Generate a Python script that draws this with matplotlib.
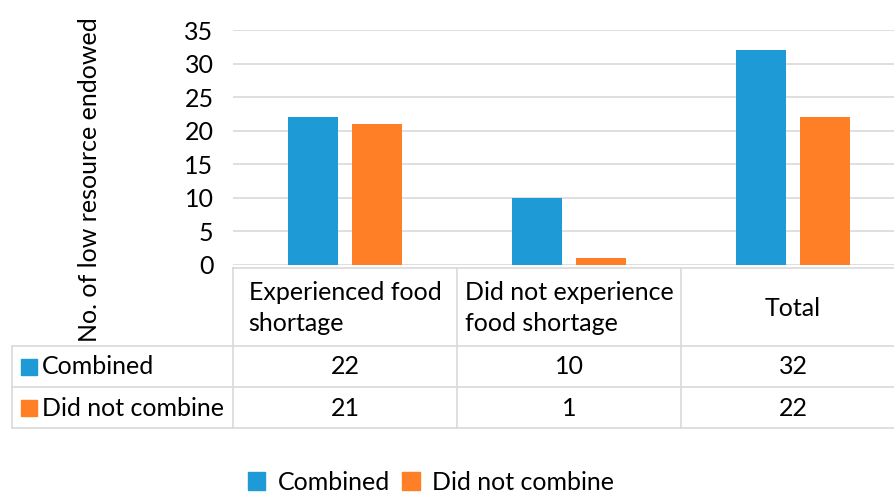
import matplotlib
matplotlib.use('Agg')
from matplotlib import pyplot as plt
from matplotlib.transforms import blended_transform_factory
from matplotlib.patches import Rectangle

# data
categories = ['Experienced food\nshortage', 'Did not experience\nfood shortage', 'Total']
series = ['Combined', 'Did not combine']
combined = [22, 10, 32]
not_combined = [21, 1, 22]
yticks = [0, 5, 10, 15, 20, 25, 30, 35]

blue = '#1E9BD7'
orange = '#FF7F27'
grid_c = '#d9d9d9'
plt.rcParams['font.family'] = ['Lato', 'DejaVu Sans']
fs = 18

W, H = 895, 492
fig = plt.figure(figsize=(W / 100, H / 100), dpi=100)

def px(x, y):
    return x / W, 1 - y / H

# bar axes: x from 233 to 905 px, y from 265 (0) to 30 (35)
x0, y0 = px(233, 265)
ax = fig.add_axes([x0, y0, 672 / W, 235 / H])
n = len(categories)
xs = list(range(n))
bw = 0.223
off = 0.143
ax.bar([x - off for x in xs], combined, bw, color=blue, zorder=3)
ax.bar([x + off for x in xs], not_combined, bw, color=orange, zorder=3)
ax.set_xlim(-0.5, n - 0.5)
ax.set_ylim(0, 35)
ax.set_yticks(yticks)
ax.set_yticklabels([str(t) for t in yticks], fontsize=fs)
ax.set_xticks([])
ax.tick_params(axis='y', length=0, pad=14)
ax.yaxis.grid(True, color=grid_c, lw=1.2)
for s in ax.spines.values():
    s.set_visible(False)
ax.set_axisbelow(True)

fig.text(90 / W, 1 - 180 / H, 'No. of low resource endowed', rotation=90,
         ha='center', va='center', fontsize=fs)

# data table
tr = blended_transform_factory(ax.transData, fig.transFigure)
tf = fig.transFigure
ytop, yh, yr1, yr2 = 268, 346, 387, 428

def fy(y):
    return 1 - y / H

lw = 1.2
# vertical column lines
for xb in [x - 0.5 for x in range(n + 1)]:
    ax.plot([xb, xb], [fy(ytop), fy(yr2)], transform=tr, color=grid_c, lw=lw, clip_on=False)
# top line of header
ax.plot([-0.5, n - 0.5], [fy(ytop), fy(ytop)], transform=tr, color=grid_c, lw=lw, clip_on=False)
# row lines
for yy in [yh, yr1, yr2]:
    fig.add_artist(plt.Line2D([12 / W, 1], [fy(yy), fy(yy)], color=grid_c, lw=lw))
fig.add_artist(plt.Line2D([12 / W, 12 / W], [fy(yh), fy(yr2)], color=grid_c, lw=lw))

# headers
for i, c in enumerate(categories):
    ax.text(i, fy(308), c, transform=tr, ha='center', va='center',
            multialignment='left', fontsize=fs, linespacing=1.45)

# rows
rows = [(combined, blue, 367), (not_combined, orange, 408)]
for name, (vals, col, yy) in zip(series, rows):
    fig.add_artist(Rectangle((21 / W, fy(yy + 8)), 16 / W, 16 / H, color=col, transform=tf))
    fig.text(42 / W, fy(yy), name, ha='left', va='center', fontsize=fs)
    for i, v in enumerate(vals):
        ax.text(i, fy(yy), str(v), transform=tr, ha='center', va='center', fontsize=fs)

# legend
leg = fig.legend(handles=[Rectangle((0, 0), 1, 1, color=blue), Rectangle((0, 0), 1, 1, color=orange)],
                 labels=series, loc='center', bbox_to_anchor=(431 / W, fy(482)), ncol=2,
                 frameon=False, fontsize=fs, handlelength=0.7, handleheight=0.7,
                 handletextpad=0.5, columnspacing=0.5)

fig.savefig('out.png', dpi=100)
